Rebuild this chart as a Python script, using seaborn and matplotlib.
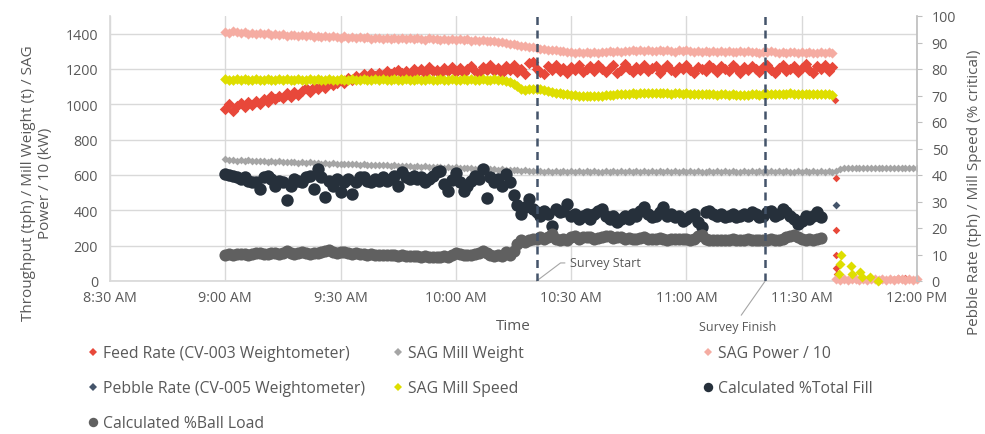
import numpy as np
import pandas as pd
import matplotlib
matplotlib.use("Agg")
import matplotlib.pyplot as plt
import seaborn as sns
from matplotlib.lines import Line2D

# ---------------- data (minutes after midnight; 540 = 9:00 AM) ----------------
start_minute = 540

feed_rate = [
    975, 1000, 962, 990, 1008, 985, 1012, 995, 1020, 1003,
    1030, 1012, 1045, 1028, 1050, 1035, 1062, 1040, 1070, 1052,
    1075, 1092, 1068, 1100, 1085, 1112, 1095, 1125, 1108, 1118,
    1140, 1122, 1150, 1135, 1162, 1148, 1170, 1155, 1175, 1160,
    1178, 1165, 1190, 1172, 1185, 1195, 1175, 1188, 1170, 1198,
    1182, 1200, 1178, 1210, 1188, 1195, 1170, 1205, 1190, 1212,
    1185, 1205, 1175, 1200, 1215, 1190, 1180, 1210, 1195, 1220,
    1190, 1205, 1180, 1215, 1195, 1225, 1185, 1200, 1170, 1235,
    1240, 1200, 1185, 1170, 1215, 1195, 1225, 1190, 1205, 1180,
    1210, 1195, 1220, 1185, 1200, 1215, 1190, 1225, 1200, 1185,
    1205, 1220, 1180, 1195, 1230, 1200, 1185, 1210, 1195, 1225,
    1190, 1205, 1215, 1175, 1200, 1220, 1195, 1185, 1210, 1200,
    1225, 1195, 1180, 1210, 1200, 1190, 1220, 1205, 1185, 1215,
    1200, 1190, 1225, 1205, 1180, 1210, 1195, 1215, 1200, 1185,
    1210, 1225, 1195, 1180, 1205, 1220, 1190, 1200, 1215, 1185,
    1205, 1230, 1195, 1180, 1215, 1200, 1225, 1190, 1210,
]
feed_tail_minute = [698.7, 698.9, 698.8, 698.9, 699.0, 699.1, 700, 702, 704, 706,
                    708, 710, 712, 714, 715, 716, 717, 718, 720]
feed_tail = [1022, 584, 289, 147, 74, 40, 0, 0, 0, 0,
             0, 0, 0, 14, 18, 12, 16, 8, 0]

sag_power = [
    1412, 1405, 1415, 1408, 1402, 1410, 1400, 1406, 1398, 1404,
    1396, 1402, 1394, 1399, 1390, 1397, 1388, 1395, 1392, 1386,
    1393, 1385, 1390, 1382, 1388, 1380, 1386, 1379, 1385, 1381,
    1378, 1385, 1376, 1382, 1375, 1380, 1374, 1381, 1372, 1378,
    1375, 1370, 1377, 1372, 1378, 1369, 1375, 1371, 1376, 1368,
    1374, 1370, 1366, 1373, 1368, 1372, 1365, 1370, 1366, 1371,
    1364, 1369, 1362, 1367, 1360, 1365, 1358, 1363, 1360, 1356,
    1360, 1354, 1352, 1348, 1344, 1340, 1336, 1332, 1330, 1326,
    1322, 1320, 1316, 1314, 1310, 1307, 1305, 1302, 1300, 1298,
    1296, 1293, 1297, 1292, 1295, 1290, 1296, 1293, 1298, 1295,
    1300, 1296, 1302, 1298, 1304, 1300, 1306, 1302, 1307, 1303,
    1308, 1304, 1300, 1306, 1302, 1308, 1303, 1299, 1305, 1301,
    1306, 1300, 1297, 1303, 1299, 1304, 1298, 1302, 1296, 1301,
    1297, 1303, 1298, 1294, 1300, 1296, 1301, 1295, 1299, 1293,
    1298, 1294, 1300, 1295, 1291, 1297, 1293, 1299, 1294, 1290,
    1296, 1292, 1298, 1293, 1289, 1295, 1291, 1294, 1288,
]
power_tail_start = 699
power_tail = [12, 8, 10, 6, 9, 11, 7, 10, 8, 12, 9, 6, 10, 8, 11, 7, 9, 12, 8, 10, 7, 9]

sag_weight = [
    688, 684, 687, 682, 685, 680, 683, 679, 682, 677,
    680, 676, 678, 674, 677, 672, 675, 671, 674, 670,
    672, 668, 671, 667, 669, 665, 668, 664, 667, 663,
    665, 661, 664, 660, 662, 658, 661, 657, 659, 655,
    658, 654, 656, 652, 655, 651, 653, 649, 652, 648,
    650, 646, 649, 645, 647, 643, 646, 642, 644, 641,
    643, 639, 642, 638, 640, 636, 639, 635, 637, 633,
    635, 631, 634, 629, 631, 627, 629, 625, 627, 623,
    624, 620, 623, 619, 622, 618, 621, 617, 620, 618,
    621, 617, 620, 616, 622, 618, 621, 617, 619, 622,
    618, 621, 617, 620, 616, 622, 618, 621, 617, 620,
    619, 622, 618, 621, 617, 620, 616, 622, 618, 621,
    617, 620, 618, 622, 619, 616, 621, 618, 620, 617,
    621, 618, 622, 619, 616, 620, 617, 621, 618, 622,
    619, 616, 620, 618, 621, 617, 622, 619, 616, 620,
    618, 621, 617, 620, 619, 622, 618, 621, 617,
]
weight_tail_start = 699
weight_tail = [625, 633, 637, 638, 639, 638, 640, 639, 640, 641, 640,
               639, 641, 640, 641, 640, 641, 642, 641, 640, 641, 641]

sag_speed = [
    76.1, 75.9, 76.0, 76.2, 75.9, 76.1, 75.8, 76.0, 76.2, 75.9,
    76.0, 76.1, 75.9, 76.0, 76.2, 75.9, 76.1, 75.8, 76.0, 76.1,
    75.9, 76.0, 76.2, 75.9, 76.1, 76.0, 75.8, 76.1, 76.0, 75.9,
    76.1, 76.0, 75.9, 76.2, 76.0, 75.9, 76.1, 75.8, 76.0, 76.1,
    75.9, 76.1, 76.0, 75.8, 76.1, 76.0, 75.9, 76.2, 76.0, 75.9,
    76.1, 75.9, 76.0, 76.2, 75.9, 76.0, 76.1, 75.8, 76.0, 76.1,
    75.9, 76.0, 76.2, 75.9, 76.1, 76.0, 75.8, 76.1, 75.9, 76.0,
    76.1, 75.9, 76.0, 75.6, 75.0, 74.2, 73.4, 72.6, 72.2, 72.3,
    72.4, 72.5, 72.3, 72.0, 71.6, 71.3, 71.0, 70.8, 70.6, 70.4,
    70.3, 70.1, 70.0, 69.9, 69.8, 69.9, 69.8, 70.0, 69.9, 70.1,
    70.2, 70.3, 70.5, 70.4, 70.6, 70.7, 70.8, 70.7, 70.9, 71.0,
    70.9, 71.1, 71.0, 70.8, 71.0, 70.9, 70.7, 70.9, 70.8, 70.6,
    70.8, 70.7, 70.5, 70.7, 70.6, 70.4, 70.6, 70.5, 70.3, 70.5,
    70.4, 70.2, 70.4, 70.3, 70.1, 70.3, 70.2, 70.4, 70.5, 70.3,
    70.5, 70.6, 70.4, 70.6, 70.5, 70.7, 70.6, 70.8, 70.6, 70.5,
    70.7, 70.6, 70.4, 70.6, 70.5, 70.7, 70.5, 70.4, 70.2,
]
speed_tail_minute = [699.8, 700.0, 700.2, 702.8, 703.0, 705.2, 705.6, 707.8, 709.9]
speed_tail = [2.6, 6.4, 9.8, 5.8, 2.6, 3.3, 1.4, 1.4, 0.1]

pebble_minute = [699.0]
pebble_rate = [28.7]

total_fill = [
    40.4, 40.1, 39.8, 39.1, 38.5, 39.1, 37.9, 37.3, 37.3, 34.8,
    39.1, 39.8, 38.5, 36.0, 37.9, 37.3, 30.4, 36.0, 38.5, 37.9,
    37.3, 39.1, 39.8, 34.8, 42.3, 39.1, 31.6, 37.9, 36.0, 38.5,
    33.5, 37.3, 38.5, 32.9, 37.3, 39.1, 39.1, 37.9, 37.3, 38.5,
    37.9, 39.1, 37.9, 38.5, 39.8, 36.0, 41.1, 39.1, 38.5, 39.8,
    38.5, 39.1, 37.3, 38.5, 39.8, 41.1, 41.5, 36.6, 34.0, 38.3,
    40.7, 37.3, 34.0, 36.0, 37.9, 39.8, 38.5, 42.3, 31.3, 39.1,
    37.3, 38.5, 36.0, 40.4, 37.3, 32.3, 28.5, 25.3, 27.9, 31.0,
    27.2, 25.9, 24.7, 26.6, 25.3, 20.9, 27.2, 25.9, 26.6, 29.1,
    24.7, 25.3, 23.4, 24.7, 25.3, 23.4, 25.3, 26.6, 27.2, 24.7,
    23.4, 24.7, 22.2, 23.4, 24.7, 23.4, 25.3, 24.7, 26.6, 27.9,
    25.3, 24.1, 24.7, 25.9, 27.9, 24.7, 25.3, 24.1, 24.7, 22.8,
    23.4, 24.7, 25.3, 22.2, 20.3, 25.9, 26.6, 25.3, 24.7, 25.3,
    24.1, 24.7, 25.3, 24.1, 24.7, 25.3, 24.7, 25.9, 25.3, 24.1,
    24.7, 25.9, 26.6, 24.7, 25.3, 27.2, 25.9, 24.7, 23.4, 21.6,
    22.8, 24.7, 23.4, 24.7, 25.9, 24.1,
]

ball_load = [
    10.0, 10.1, 9.9, 10.2, 10.1, 10.3, 10.0, 10.3, 10.4, 10.7,
    10.3, 10.1, 10.4, 10.5, 10.3, 10.7, 11.5, 10.5, 10.2, 10.7,
    10.9, 10.5, 10.3, 10.7, 10.5, 10.8, 11.3, 11.7, 11.0, 10.5,
    10.8, 11.1, 10.7, 10.3, 10.5, 10.1, 10.3, 10.0, 10.2, 9.9,
    10.0, 9.7, 9.9, 9.7, 9.8, 9.5, 9.7, 9.5, 9.6, 9.3,
    9.5, 9.2, 9.3, 9.1, 8.9, 9.2, 9.0, 9.3, 9.1, 9.7,
    10.7, 10.1, 9.9, 10.0, 9.7, 10.1, 10.5, 11.3, 10.7, 10.0,
    9.3, 9.7, 9.5, 11.0, 9.9, 11.2, 14.0, 15.3, 14.7, 15.3,
    15.9, 16.0, 16.5, 15.7, 16.5, 17.8, 15.9, 15.3, 15.9, 15.3,
    16.5, 17.0, 15.9, 16.5, 16.7, 16.5, 16.0, 16.3, 16.7, 17.1,
    16.8, 16.3, 16.7, 16.5, 16.0, 16.3, 15.9, 16.0, 16.3, 16.5,
    16.0, 15.7, 15.9, 16.1, 15.9, 15.5, 15.9, 15.7, 16.0, 15.7,
    15.9, 15.6, 16.0, 17.0, 17.5, 16.0, 15.5, 15.3, 15.5, 15.3,
    15.5, 15.3, 15.7, 15.3, 15.5, 15.3, 15.7, 15.5, 15.3, 15.5,
    15.3, 15.5, 15.7, 15.3, 15.5, 15.9, 16.5, 17.0, 17.2, 16.7,
    16.0, 15.5, 15.7, 15.3, 15.9, 16.3,
]

survey_start = 621.0
survey_finish = 680.5

tick_minutes = [510, 540, 570, 600, 630, 660, 690, 720]
tick_labels = ["8:30 AM", "9:00 AM", "9:30 AM", "10:00 AM",
               "10:30 AM", "11:00 AM", "11:30 AM", "12:00 PM"]

series_labels = {
    "feed": "Feed Rate (CV-003 Weightometer)",
    "weight": "SAG Mill Weight",
    "power": "SAG Power / 10",
    "pebble": "Pebble Rate (CV-005 Weightometer)",
    "speed": "SAG Mill Speed",
    "fill": "Calculated %Total Fill",
    "ball": "Calculated %Ball Load",
}
colors = {
    "feed": "#E8483A",
    "weight": "#A5A5A5",
    "power": "#F5ACA2",
    "pebble": "#44546A",
    "speed": "#DEDE00",
    "fill": "#26303B",
    "ball": "#606060",
}

# ---------------- tables ----------------
feed_df = pd.DataFrame({"minute": start_minute + np.arange(len(feed_rate)), "value": feed_rate})
feed_tail_df = pd.DataFrame({"minute": feed_tail_minute, "value": feed_tail})
power_df = pd.DataFrame({"minute": np.concatenate([start_minute + np.arange(len(sag_power)),
                                                   power_tail_start + np.arange(len(power_tail))]),
                         "value": sag_power + power_tail})
weight_df = pd.DataFrame({"minute": np.concatenate([start_minute + np.arange(len(sag_weight)),
                                                    weight_tail_start + np.arange(len(weight_tail))]),
                          "value": sag_weight + weight_tail})
speed_df = pd.DataFrame({"minute": start_minute + np.arange(len(sag_speed)), "value": sag_speed})
speed_tail_df = pd.DataFrame({"minute": speed_tail_minute, "value": speed_tail})
pebble_df = pd.DataFrame({"minute": pebble_minute, "value": pebble_rate})
fill_df = pd.DataFrame({"minute": start_minute + np.arange(len(total_fill)), "value": total_fill})
ball_df = pd.DataFrame({"minute": start_minute + np.arange(len(ball_load)), "value": ball_load})

# ---------------- style ----------------
sns.set_theme(style="white")
plt.rcParams['font.family'] = ['Open Sans', 'DejaVu Sans']
TXT = "#595959"
GRID = "#D9D9D9"

fig = plt.figure(figsize=(9.85, 4.35), dpi=100)
W, H = 985, 435
ax = fig.add_axes([110 / W, 1 - 282 / H, (917 - 110) / W, (282 - 17) / H])
ax2 = ax.twinx()

# left-axis series
sns.scatterplot(data=feed_df, x="minute", y="value", ax=ax, marker="D", s=34,
                color=colors["feed"], linewidth=0, legend=False, zorder=3)
sns.scatterplot(data=feed_tail_df, x="minute", y="value", ax=ax, marker="D", s=15,
                color=colors["feed"], linewidth=0, legend=False, zorder=3)
sns.scatterplot(data=weight_df, x="minute", y="value", ax=ax, marker="D", s=16,
                color=colors["weight"], linewidth=0, legend=False, zorder=3)
sns.scatterplot(data=power_df, x="minute", y="value", ax=ax, marker="D", s=27,
                color=colors["power"], linewidth=0, legend=False, zorder=3, clip_on=False)

# right-axis series
sns.scatterplot(data=pebble_df, x="minute", y="value", ax=ax2, marker="D", s=16,
                color=colors["pebble"], linewidth=0, legend=False)
sns.scatterplot(data=speed_df, x="minute", y="value", ax=ax2, marker="D", s=30,
                color=colors["speed"], linewidth=0, legend=False)
sns.scatterplot(data=speed_tail_df, x="minute", y="value", ax=ax2, marker="D", s=26,
                color=colors["speed"], linewidth=0, legend=False, clip_on=False)
sns.scatterplot(data=fill_df, x="minute", y="value", ax=ax2, marker="o", s=80,
                color=colors["fill"], linewidth=0, legend=False)
sns.scatterplot(data=ball_df, x="minute", y="value", ax=ax2, marker="o", s=76,
                color=colors["ball"], linewidth=0, legend=False)

# axes setup
ax.set_xlim(510, 720)
ax.set_ylim(0, 1500)
ax2.set_ylim(0, 100)
ax.set_xticks(tick_minutes)
ax.set_xticklabels(tick_labels)
ax.set_yticks(range(0, 1401, 200))
ax2.set_yticks(range(0, 101, 10))
ax.set_xlabel("")
ax.set_ylabel("")
ax2.set_xlabel("")
ax2.set_ylabel("")

ax.grid(True, color=GRID, linewidth=1)
ax.set_axisbelow(True)
ax2.grid(False)
for s in ["top", "right"]:
    ax.spines[s].set_visible(False)
ax.spines["left"].set_color(GRID)
ax.spines["bottom"].set_color(GRID)
for s in ["top", "left", "bottom"]:
    ax2.spines[s].set_visible(False)
ax2.spines["right"].set_color("#BFBFBF")

ax.tick_params(axis="y", length=0, pad=8.6, labelsize=10.3, labelcolor=TXT)
ax.tick_params(axis="x", length=0, pad=6.5, labelsize=10.3, labelcolor=TXT)
ax2.tick_params(axis="y", length=3.6, width=0.8, color="#BFBFBF", pad=7,
                labelsize=10.3, labelcolor=TXT)

# survey lines
for xm in (survey_start, survey_finish):
    ax2.axvline(xm, color="#44546A", lw=1.8, ls=(0, (3.2, 2.2)), zorder=6)

ax.annotate("Survey Start", xy=(survey_start, 0), xycoords="data",
            xytext=(23.8, 13), textcoords="offset points", ha="left", va="center",
            fontsize=9, color=TXT, annotation_clip=False,
            arrowprops=dict(arrowstyle="-", color="#A6A6A6", lw=0.8,
                            connectionstyle="angle,angleA=0,angleB=37",
                            shrinkA=1, shrinkB=0))
ax.annotate("Survey Finish", xy=(survey_finish, 0), xycoords="data",
            xytext=(-19.5, -32.5), textcoords="offset points", ha="center", va="center",
            fontsize=9, color=TXT, annotation_clip=False,
            arrowprops=dict(arrowstyle="-", color="#A6A6A6", lw=0.8,
                            relpos=(0.5, 1.0), shrinkA=1, shrinkB=0))

# axis titles
fig.text(513 / W, 1 - 327 / H, "Time", ha="center", va="center", fontsize=11, color=TXT)
fig.text(37 / W, 1 - 183 / H, "Throughput (tph) / Mill Weight (t) / SAG\nPower / 10 (kW)",
         rotation=90, ha="center", va="center", multialignment="center",
         fontsize=11, color=TXT)
fig.text(975 / W, 1 - 192 / H, "Pebble Rate (tph) / Mill Speed (% critical)",
         rotation=90, ha="center", va="center", fontsize=11, color=TXT)

# legend (row-major layout, one entry each)
legend_layout = [
    ("feed", "D", 4.0, 93, 354), ("weight", "D", 4.0, 398, 354), ("power", "D", 4.0, 708, 354),
    ("pebble", "D", 4.0, 93, 389), ("speed", "D", 4.0, 398, 389), ("fill", "o", 6.8, 708, 389),
    ("ball", "o", 6.8, 93, 424),
]
for key, mk, ms, xm, yc in legend_layout:
    h = Line2D([], [], marker=mk, linestyle="", markersize=ms,
               color=colors[key], markeredgewidth=0)
    fig.legend(handles=[h], labels=[series_labels[key]], loc="center left",
               bbox_to_anchor=((xm - 4.3) / W, 1 - yc / H), frameon=False,
               handlelength=0.55, handletextpad=0.35, borderpad=0, borderaxespad=0,
               fontsize=11.3, labelcolor=TXT)

fig.savefig("out.png", dpi=100)
